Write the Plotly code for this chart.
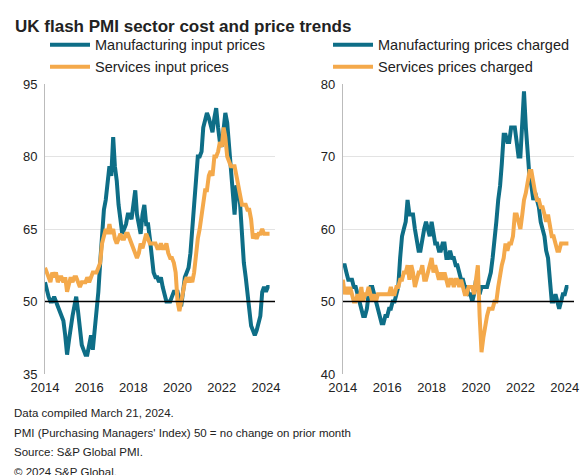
import plotly.graph_objects as go
import pandas as pd

dates = pd.date_range("2014-01-01", periods=123, freq="MS")

mfg_input = [54,52,51,50,50,51,50,49,48,47,46,43,
 39,42,45,47,49,51,48,44,41,40,39,39,
 41,43,40,44,48,52,58,63,69,71,75,78,
 76,84,78,75,70,66,64,65,66,68,68,67,
 70,73,68,66,64,68,70,66,66,63,60,56,
 55,55,54,55,53,51,50,50,50,51,52,52,
 52,50,49,52,55,56,57,60,64,70,75,80,
 80,81,86,88,89,88,86,85,88,90,86,83,
 82,85,89,87,82,78,74,68,74,73,70,62,
 58,55,52,49,45,44,43,44,46,47,52,53,
 52,53,53]
svc_input = [57,56,55,54,56,55,56,54,55,55,54,55,
 52,54,55,54,55,55,54,53,54,54,54,55,
 54,55,56,56,56,57,58,62,64,65,64,66,
 64,65,63,62,63,64,63,63,64,64,63,62,
 61,60,59,60,62,61,63,64,63,62,62,62,
 62,61,61,62,61,61,62,60,59,59,58,56,
 50,48,50,53,54,55,54,55,54,56,60,63,
 65,68,71,73,73,76,77,76,80,80,81,83,
 82,86,84,80,79,78,78,78,76,74,72,70,
 70,70,69,69,67,63,64,63,64,64,65,64,
 64,64,64]
mfg_charged = [55,55,54,53,53,53,52,52,51,50,49,48,
 48,49,51,52,52,51,50,49,48,47,47,48,
 48,49,49,50,50,51,52,56,59,60,61,64,
 62,62,62,60,58,57,57,59,60,61,60,59,
 61,59,58,58,57,57,58,58,56,56,57,56,
 56,55,55,54,53,53,52,52,51,51,50,51,
 53,52,51,52,52,52,52,53,54,56,58,61,
 64,66,69,73,73,72,72,74,74,74,72,70,
 70,74,79,74,70,67,66,64,65,64,63,61,
 60,59,57,56,53,50,50,51,50,49,50,51,
 51,52,52]
svc_charged = [53,51,52,51,52,51,50,50,51,50,52,50,
 51,51,52,51,50,51,50,51,51,51,51,51,
 51,51,52,51,51,52,52,53,53,54,54,55,
 53,55,54,52,53,54,54,55,53,53,54,55,
 56,54,55,54,53,54,53,54,53,52,53,53,
 52,53,53,52,53,52,51,51,52,52,52,51,
 53,55,48,43,45,47,48,49,49,49,50,50,
 52,54,55,56,58,57,58,58,59,62,62,61,
 60,62,64,65,67,68,68,66,65,64,64,63,
 63,62,61,62,60,59,59,58,57,57,58,58,
 58,58,58]

TEAL = "#0e6e87"
ORANGE = "#f4a94b"
font = "Liberation Sans, Arial"

fig = go.Figure()
fig.add_trace(go.Scatter(x=dates, y=mfg_input, name="Manufacturing input prices", line=dict(color=TEAL, width=4), xaxis="x", yaxis="y", legend="legend"))
fig.add_trace(go.Scatter(x=dates, y=svc_input, name="Services input prices", line=dict(color=ORANGE, width=4), xaxis="x", yaxis="y", legend="legend"))
fig.add_trace(go.Scatter(x=dates, y=mfg_charged, name="Manufacturing prices charged", line=dict(color=TEAL, width=4), xaxis="x2", yaxis="y2", legend="legend2"))
fig.add_trace(go.Scatter(x=dates, y=svc_charged, name="Services prices charged", line=dict(color=ORANGE, width=4), xaxis="x2", yaxis="y2", legend="legend2"))

xcommon = dict(tickvals=[pd.Timestamp(f"{y}-01-01") for y in range(2014, 2025, 2)],
               ticktext=[str(y) for y in range(2014, 2025, 2)],
               range=[pd.Timestamp("2014-01-01"), pd.Timestamp("2024-06-01")],
               showgrid=False, ticks="", showline=False, zeroline=False,
               ticklabelstandoff=4,
               tickfont=dict(size=13, color="#222"))
ycommon = dict(showgrid=True, gridcolor="#e3e3e3", showline=True, linecolor="#bbbbbb",
               ticks="", zeroline=False, ticklabelstandoff=4, tickfont=dict(size=13, color="#222"))

fig.update_layout(
    width=588, height=475, plot_bgcolor="white", paper_bgcolor="white",
    font=dict(family=font, color="#222"),
    margin=dict(l=37, r=22, t=76, b=109),
    xaxis=dict(domain=[0, 0.435], anchor="y", **xcommon),
    xaxis2=dict(domain=[0.563, 1], anchor="y2", **xcommon),
    yaxis=dict(domain=[0, 1], anchor="x", range=[35, 95], tickvals=[35, 50, 65, 80, 95], **ycommon),
    yaxis2=dict(domain=[0, 1], anchor="x2", range=[40, 80], tickvals=[40, 50, 60, 70, 80], **ycommon),
    legend=dict(x=-0.0, y=1.19, xanchor="left", yanchor="top", font=dict(size=14.5), bgcolor="rgba(0,0,0,0)", tracegroupgap=0, itemwidth=40),
    legend2=dict(x=0.535, y=1.19, xanchor="left", yanchor="top", font=dict(size=14.5), bgcolor="rgba(0,0,0,0)", tracegroupgap=0, itemwidth=40),
    showlegend=True,
    title=dict(text="<b>UK flash PMI sector cost and price trends</b>", x=0.012, xanchor="left", y=0.975, yanchor="top", font=dict(size=17, color="#222")),
)
fig.add_shape(type="line", xref="x", yref="y", x0=pd.Timestamp("2014-01-01"), x1=pd.Timestamp("2024-06-01"), y0=50, y1=50, line=dict(color="black", width=1.5))
fig.add_shape(type="line", xref="x2", yref="y2", x0=pd.Timestamp("2014-01-01"), x1=pd.Timestamp("2024-06-01"), y0=50, y1=50, line=dict(color="black", width=1.5))

notes = ["Data compiled March 21, 2024.",
         "PMI (Purchasing Managers' Index) 50 = no change on prior month",
         "Source: S&P Global PMI.",
         "© 2024 S&P Global."]
for i, t in enumerate(notes):
    fig.add_annotation(text=t, xref="paper", yref="paper", x=-0.062, y=-0.134 - i*0.068, xanchor="left", yanchor="middle", showarrow=False, font=dict(size=11.5, color="#222"))

fig.write_html("out.html")
